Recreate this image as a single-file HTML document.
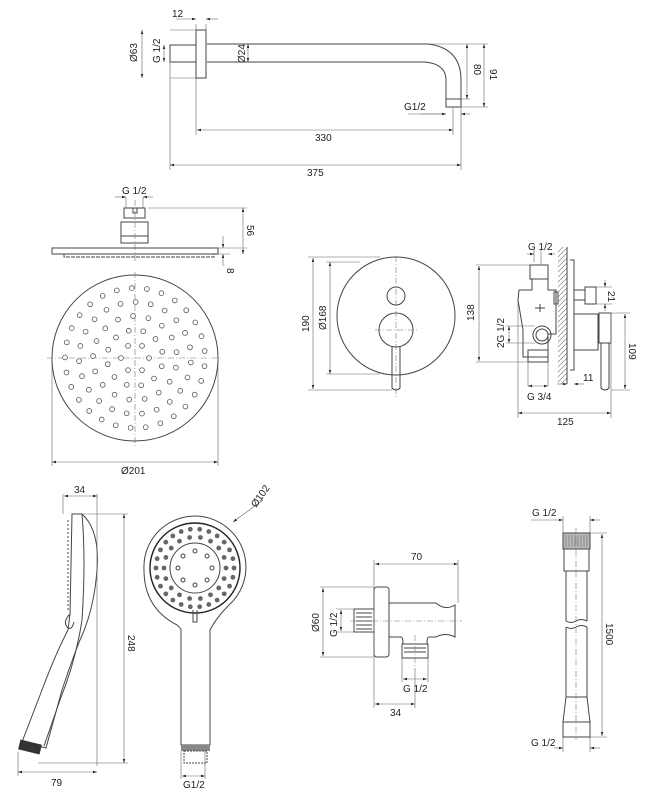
<!DOCTYPE html>
<html><head><meta charset="utf-8"><style>
html,body{margin:0;padding:0;background:#fff}
svg{display:block}
text{font-family:"Liberation Sans",sans-serif;font-size:10px;fill:#222}
.l{stroke:#444;stroke-width:1;fill:none}
.t{stroke:#666;stroke-width:.6;fill:none}
.c{stroke:#777;stroke-width:.6;fill:none;stroke-dasharray:6 2 1 2}
</style></head><body>
<svg width="654" height="800" viewBox="0 0 654 800" xmlns="http://www.w3.org/2000/svg">
<defs>
<marker id="a" viewBox="0 0 10 10" refX="10" refY="5" markerWidth="7" markerHeight="7" orient="auto-start-reverse"><path d="M0,2 L10,5 L0,8z" fill="#222"/></marker>
<pattern id="h" width="5" height="5" patternUnits="userSpaceOnUse"><path d="M0,5 L5,0" stroke="#666" stroke-width=".6"/></pattern>
</defs>

<!-- TOP ARM -->
<rect class="l" x="170" y="45" width="26" height="17"/>
<rect class="l" x="196" y="30" width="10" height="48"/>
<path class="l" d="M207,44 H428 Q461,48 461,80 V99 M207,62 H425 Q446,64 446,80 V99"/>
<rect class="l" x="446" y="99" width="15" height="8"/>
<path class="t" d="M170,62 V170 M196,30 V24 M206,30 V24 M196,78 V135 M453,107 V135 M461,107 V170 M170,30 H196 M170,78 H196 M430,44 H488 M461,99 H470 M461,107 H488 M408,114 H446"/>
<line class="t" x1="176" y1="19" x2="196" y2="19" marker-end="url(#a)"/><line class="t" x1="218" y1="19" x2="206" y2="19" marker-end="url(#a)"/>
<text x="172" y="17">12</text>
<line class="t" x1="142" y1="30" x2="142" y2="78" marker-start="url(#a)" marker-end="url(#a)"/>
<text transform="translate(137,62) rotate(-90)">Ø63</text>
<line class="t" x1="164" y1="45" x2="164" y2="62" marker-start="url(#a)" marker-end="url(#a)"/>
<text transform="translate(160,63) rotate(-90)">G 1/2</text>
<line class="t" x1="248" y1="44" x2="248" y2="62" marker-start="url(#a)" marker-end="url(#a)"/>
<text transform="translate(245,63) rotate(-90)">Ø24</text>
<line class="t" x1="467" y1="44" x2="467" y2="99" marker-start="url(#a)" marker-end="url(#a)"/>
<text transform="translate(474,64) rotate(90)">80</text>
<line class="t" x1="484" y1="44" x2="484" y2="107" marker-start="url(#a)" marker-end="url(#a)"/>
<text transform="translate(490,69) rotate(90)">91</text>
<line class="t" x1="420" y1="114" x2="446" y2="114" marker-end="url(#a)"/><line class="t" x1="470" y1="114" x2="461" y2="114" marker-end="url(#a)"/>
<text x="404" y="110">G1/2</text>
<line class="t" x1="197" y1="130" x2="453" y2="130" marker-start="url(#a)" marker-end="url(#a)"/>
<text x="315" y="141">330</text>
<line class="t" x1="170" y1="165" x2="461" y2="165" marker-start="url(#a)" marker-end="url(#a)"/>
<text x="307" y="176">375</text>

<!-- HEAD SHOWER SIDE -->
<text x="122" y="194">G 1/2</text>
<line class="t" x1="115" y1="197" x2="126" y2="197" marker-end="url(#a)"/><line class="t" x1="153" y1="197" x2="143" y2="197" marker-end="url(#a)"/>
<path class="t" d="M126,197 V208 M143,197 V208"/>
<rect class="l" x="124" y="208" width="21" height="10"/>
<path class="l" d="M133,208 v5 h4 v-5"/>
<rect class="l" x="121" y="222" width="27" height="21"/>
<line class="l" x1="121" y1="236" x2="148" y2="236"/>
<rect class="l" x="52" y="248" width="166" height="6"/>
<path class="l" d="M64,254 v3 h150 v-3" stroke-dasharray="4 1"/>
<line class="c" x1="135" y1="200" x2="135" y2="262"/>
<path class="t" d="M148,208 H247 M218,248 H247 M218,254 H230"/>
<line class="t" x1="243" y1="208" x2="243" y2="254" marker-start="url(#a)" marker-end="url(#a)"/>
<text transform="translate(247,225) rotate(90)">56</text>
<line class="t" x1="223" y1="236" x2="223" y2="248" marker-end="url(#a)"/><line class="t" x1="223" y1="266" x2="223" y2="254" marker-end="url(#a)"/>
<text transform="translate(227,268) rotate(90)">8</text>
<!-- HEAD TOP -->
<circle class="l" cx="135" cy="358" r="83"/>
<line class="c" x1="47" y1="358" x2="221" y2="358"/>
<line class="c" x1="135" y1="272" x2="135" y2="446"/>
<g id="holes" fill="#fff" stroke="#555" stroke-width=".8"></g>
<path class="t" d="M52,358 V466 M218,358 V466"/>
<line class="t" x1="52" y1="462" x2="218" y2="462" marker-start="url(#a)" marker-end="url(#a)"/>
<text x="121" y="474">Ø201</text>

<!-- MIXER FRONT -->
<circle class="l" cx="396" cy="316" r="59"/>
<circle class="l" cx="396" cy="296" r="9"/>
<circle class="l" cx="396" cy="330" r="17"/>
<path class="l" d="M392,347 V388 Q396,392 400,388 V347"/>
<line class="c" x1="396" y1="256" x2="396" y2="398"/>
<line class="c" x1="375" y1="330" x2="417" y2="330"/>
<path class="t" d="M308,257 H380 M308,390 H392 M326,262 H360 M326,374 H380"/>
<line class="t" x1="313" y1="258" x2="313" y2="389" marker-start="url(#a)" marker-end="url(#a)"/>
<text transform="translate(309,332) rotate(-90)">190</text>
<line class="t" x1="330" y1="262" x2="330" y2="374" marker-start="url(#a)" marker-end="url(#a)"/>
<text transform="translate(326,330) rotate(-90)">Ø168</text>

<!-- MIXER SIDE -->
<rect x="558" y="247" width="9" height="137" fill="url(#h)"/>
<line class="l" x1="567" y1="247" x2="567" y2="384"/>
<path class="l" d="M570,260 H574 V370 H570"/>
<rect class="l" x="530" y="265" width="18" height="14"/>
<path class="l" d="M532,279 V290 H519 L518,300 L523,330 V357 H548 V334 H556 V290 H548 V279"/>
<rect class="l" x="554" y="292" width="4" height="12"/>
<path class="l" d="M574,290 H585 M574,300 H585"/><rect class="l" x="585" y="287" width="11" height="17"/>
<path class="l" d="M535,308 h10 M540,304 v8"/>
<circle class="l" cx="542" cy="335" r="9"/><circle class="l" cx="542" cy="335" r="6"/>
<rect class="l" x="528" y="350" width="20" height="12"/>
<path class="l" d="M574,314 H598 V350 H574"/>
<rect class="l" x="599" y="313" width="12" height="30"/>
<path class="l" d="M601,343 V388 Q605,392 609,388 V343"/>
<path class="t" d="M528,362 V386 M548,362 V386 M518,300 V418 M611,313 V418 M476,265 H530 M476,362 H528 M611,313 H630 M611,390 H630 M596,287 H612 M596,304 H612 M506,326 H535 M506,343 H535 M541,250 V265 M534,250 V262"/>
<line class="t" x1="527" y1="254" x2="534" y2="254" marker-end="url(#a)"/><line class="t" x1="555" y1="254" x2="548" y2="254" marker-end="url(#a)"/>
<text x="528" y="250">G 1/2</text>
<line class="t" x1="479" y1="266" x2="479" y2="361" marker-start="url(#a)" marker-end="url(#a)"/>
<text transform="translate(474,321) rotate(-90)">138</text>
<line class="t" x1="509" y1="326" x2="509" y2="343" marker-start="url(#a)" marker-end="url(#a)"/>
<text transform="translate(504,348) rotate(-90)">2G 1/2</text>
<line class="t" x1="605" y1="280" x2="605" y2="287" marker-end="url(#a)"/><line class="t" x1="605" y1="311" x2="605" y2="304" marker-end="url(#a)"/>
<text transform="translate(608,291) rotate(90)">21</text>
<line class="t" x1="625" y1="314" x2="625" y2="389" marker-start="url(#a)" marker-end="url(#a)"/>
<text transform="translate(629,343) rotate(90)">109</text>
<line class="t" x1="528" y1="386" x2="548" y2="386" marker-start="url(#a)" marker-end="url(#a)"/>
<text x="527" y="400">G 3/4</text>
<line class="t" x1="557" y1="384" x2="567" y2="384" marker-end="url(#a)"/><line class="t" x1="584" y1="384" x2="574" y2="384" marker-end="url(#a)"/>
<text x="583" y="381">11</text>
<line class="t" x1="518" y1="413" x2="611" y2="413" marker-start="url(#a)" marker-end="url(#a)"/>
<text x="557" y="425">125</text>

<!-- HAND SHOWER SIDE -->
<path class="l" d="M72,514 H82 Q100,530 97,570 Q94,610 80,640 Q72,660 62,690 L46,748 L22,742 L42,690 Q55,655 68,630 L70,614 Z"/>
<path class="l" d="M82,514 Q86,560 82,620 Q76,660 60,700 L44,746"/>
<path class="l" d="M68,520 V612" stroke-dasharray="2 2" stroke-width="2"/>
<path class="l" d="M70,614 q-8,8 -2,14 q4,2 6,-6"/>
<rect x="19" y="742" width="22" height="10" fill="#333" transform="rotate(14 30 747)"/>
<path class="t" d="M63,494 V514 M97,494 V766 M82,514 H128 M38,763 H128 M18,752 V776"/>
<line class="t" x1="64" y1="496" x2="97" y2="496" marker-start="url(#a)" marker-end="url(#a)"/>
<text x="74" y="493">34</text>
<line class="t" x1="124" y1="514" x2="124" y2="763" marker-start="url(#a)" marker-end="url(#a)"/>
<text transform="translate(128,635) rotate(90)">248</text>
<line class="t" x1="18" y1="772" x2="97" y2="772" marker-start="url(#a)" marker-end="url(#a)"/>
<text x="51" y="786">79</text>

<!-- HAND SHOWER FRONT -->
<path class="l" d="M177,625 Q144,608 144,570 A51,51 0 1 1 229,605 Q216,618 210,630 V745 H181 V630 Q181,628 177,625Z"/>
<circle cx="195" cy="568" r="45" fill="none" stroke="#222" stroke-width="1.4"/>
<circle class="l" cx="195" cy="568" r="25"/>
<g id="hh" fill="#666"></g>
<path class="l" d="M193,610 V622 H197 V610"/>
<rect x="181" y="745" width="29" height="6" fill="#888"/>
<rect class="l" x="184" y="751" width="23" height="12" stroke-dasharray="2 1"/>
<line class="t" x1="181" y1="751" x2="181" y2="779"/><line class="t" x1="205" y1="751" x2="205" y2="779"/>
<line class="t" x1="182" y1="776" x2="205" y2="776" marker-start="url(#a)" marker-end="url(#a)"/>
<text x="183" y="788">G1/2</text>
<line class="t" x1="263" y1="500" x2="233" y2="522" marker-end="url(#a)"/>
<text transform="translate(256,508) rotate(-55)">Ø102</text>

<!-- WALL OUTLET -->
<rect class="l" x="374" y="587" width="15" height="70" rx="3"/>
<rect class="l" x="354" y="609" width="20" height="23"/>
<path class="l" d="M356,613h16M356,617h16M356,621h16M356,625h16M356,629h16" stroke-width=".5"/>
<path class="l" d="M389,603 H436 Q445,611 455,605 V637 Q445,632 436,637 H429 Q427,637 427,644 M389,637 H401 Q403,637 403,644"/>
<rect class="l" x="402" y="644" width="26" height="14"/>
<path class="l" d="M404,648h22M404,652h22" stroke-width=".5"/>
<line class="c" x1="350" y1="621" x2="462" y2="621"/>
<line class="c" x1="415" y1="635" x2="415" y2="668"/>
<path class="t" d="M374,560 V708 M458,560 V603 M320,587 H374 M320,657 H374 M336,609 H354 M336,632 H354 M402,658 V682 M428,658 V682 M415,668 V708"/>
<line class="t" x1="375" y1="564" x2="458" y2="564" marker-start="url(#a)" marker-end="url(#a)"/>
<text x="411" y="560">70</text>
<line class="t" x1="323" y1="588" x2="323" y2="656" marker-start="url(#a)" marker-end="url(#a)"/>
<text transform="translate(319,632) rotate(-90)">Ø60</text>
<line class="t" x1="341" y1="610" x2="341" y2="631" marker-start="url(#a)" marker-end="url(#a)"/>
<text transform="translate(337,637) rotate(-90)">G 1/2</text>
<line class="t" x1="403" y1="679" x2="427" y2="679" marker-start="url(#a)" marker-end="url(#a)"/>
<text x="403" y="692">G 1/2</text>
<line class="t" x1="375" y1="704" x2="415" y2="704" marker-start="url(#a)" marker-end="url(#a)"/>
<text x="390" y="716">34</text>

<!-- HOSE -->
<rect x="563" y="533" width="27" height="16" fill="#bbb" stroke="#444"/>
<path d="M566,535v12M569,535v12M572,535v12M575,535v12M578,535v12M581,535v12M584,535v12M587,535v12" stroke="#666" stroke-width=".6"/>
<rect class="l" x="564" y="549" width="25" height="22"/>
<path class="l" d="M566,571 V621 M587,571 V621 M566,627 V697 M587,697 V627"/>
<path class="l" d="M566,621 q5,3 10,0 q5,-3 11,0 M566,627 q5,3 10,0 q5,-3 11,0"/>
<path class="l" d="M566,697 L563,722 V737 H590 V722 L587,697 Z M563,722 H590"/>
<line class="c" x1="576" y1="528" x2="576" y2="740"/>
<path class="t" d="M563,516 V533 M590,516 V533 M590,533 H607 M590,737 H607 M563,737 V752 M590,737 V752"/>
<line class="t" x1="531" y1="520" x2="563" y2="520" marker-end="url(#a)"/><line class="t" x1="600" y1="520" x2="590" y2="520" marker-end="url(#a)"/>
<text x="532" y="516">G 1/2</text>
<line class="t" x1="602" y1="534" x2="602" y2="736" marker-start="url(#a)" marker-end="url(#a)"/>
<text transform="translate(606,623) rotate(90)">1500</text>
<line class="t" x1="554" y1="748" x2="563" y2="748" marker-end="url(#a)"/><line class="t" x1="600" y1="748" x2="590" y2="748" marker-end="url(#a)"/>
<text x="531" y="746">G 1/2</text>
</svg>
<script>
(function(){
var ns="http://www.w3.org/2000/svg";
var g=document.getElementById("holes");
var rings=[[14,6],[28,12],[42,17],[56,23],[70,29]];
rings.forEach(function(r,i){for(var k=0;k<r[1];k++){var a=k*2*Math.PI/r[1]+i*0.3;var c=document.createElementNS(ns,"circle");c.setAttribute("cx",135+r[0]*Math.cos(a));c.setAttribute("cy",358+r[0]*Math.sin(a));c.setAttribute("r",2.4);g.appendChild(c);}});
var h=document.getElementById("hh");
[[31,18],[39,26]].forEach(function(r){for(var k=0;k<r[1];k++){var a=k*2*Math.PI/r[1];var c=document.createElementNS(ns,"circle");c.setAttribute("cx",195+r[0]*Math.cos(a));c.setAttribute("cy",568+r[0]*Math.sin(a));c.setAttribute("r",2.4);h.appendChild(c);}});
for(var k=0;k<8;k++){var a=k*Math.PI/4;var c=document.createElementNS(ns,"circle");c.setAttribute("cx",195+17*Math.cos(a));c.setAttribute("cy",568+17*Math.sin(a));c.setAttribute("r",2);c.setAttribute("fill","none");c.setAttribute("stroke","#444");h.appendChild(c);}
})();
</script>
</body></html>
